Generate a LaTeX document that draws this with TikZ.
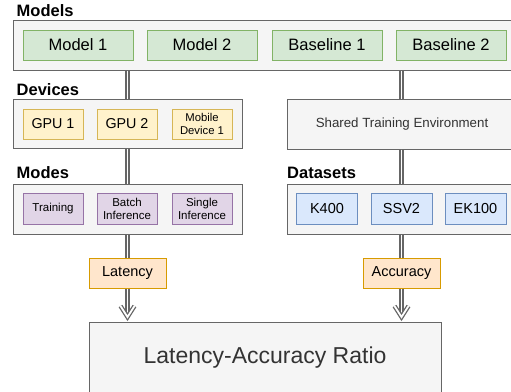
\documentclass[tikz,border=0pt]{standalone}
\usepackage{fontspec}
\setmainfont{Liberation Sans}
\usetikzlibrary{calc}
\definecolor{grayfill}{HTML}{F5F5F5}
\definecolor{graydraw}{HTML}{666666}
\definecolor{txtgray}{HTML}{333333}
\definecolor{greenfill}{HTML}{D5E8D4}
\definecolor{greendraw}{HTML}{82B366}
\definecolor{yellowfill}{HTML}{FFF2CC}
\definecolor{yellowdraw}{HTML}{D6B656}
\definecolor{purplefill}{HTML}{E1D5E7}
\definecolor{purpledraw}{HTML}{9673A6}
\definecolor{bluefill}{HTML}{DAE8FC}
\definecolor{bluedraw}{HTML}{6C8EBF}
\definecolor{orangefill}{HTML}{FFE6CC}
\definecolor{orangedraw}{HTML}{D79B00}
\tikzset{
  container/.style={draw=graydraw, fill=grayfill, line width=1pt, inner sep=0pt, text=txtgray},
  box/.style={line width=1pt, inner sep=0pt, align=center, text=black},
  modelbox/.style={box, draw=greendraw, fill=greenfill, minimum width=110pt, minimum height=30pt, font=\fontsize{16.5}{19}\selectfont},
  devbox/.style={box, draw=yellowdraw, fill=yellowfill, minimum width=60pt, minimum height=30pt},
  modebox/.style={box, draw=purpledraw, fill=purplefill, minimum width=60pt, minimum height=31pt, font=\fontsize{11.5}{13.5}\selectfont},
  databox/.style={box, draw=bluedraw, fill=bluefill, minimum width=61pt, minimum height=31pt, font=\fontsize{14.5}{17}\selectfont},
  metricbox/.style={box, draw=orangedraw, fill=orangefill, minimum width=77pt, minimum height=30pt, font=\fontsize{14.5}{17}\selectfont},
  grouplabel/.style={anchor=west, inner sep=0pt, font=\bfseries\fontsize{16.5}{19}\selectfont},
  dbl/.style={draw=graydraw, line width=1.3pt, double=white, double distance=1.8pt},
  chevron/.style={dbl, line join=miter, miter limit=10},
}
\begin{document}
\begin{tikzpicture}[x=1pt,y=-1pt]
\useasboundingbox (0,0) rectangle (511,391);
\clip (0,0) rectangle (511,391);
% group labels
\node[grouplabel] (lmodels) at (16.5,11) {Models};
\node[grouplabel] (ldevices) at (16.5,90) {Devices};
\node[grouplabel] (lmodes) at (16.5,173) {Modes};
\node[grouplabel] (ldatasets) at (287,173) {Datasets};
% containers
\node[container, minimum width=504pt, minimum height=50pt] (models) at (265,45) {};
\node[container, minimum width=229pt, minimum height=49pt] (devices) at (127.5,123.5) {};
\node[container, minimum width=230pt, minimum height=50pt, font=\fontsize{13.3}{16}\selectfont] (shared) at (402,124) {Shared Training Environment};
\node[container, minimum width=229pt, minimum height=50pt] (modes) at (127.5,209) {};
\node[container, minimum width=230pt, minimum height=50pt] (datasets) at (402,209) {};
\node[container, minimum width=352pt, minimum height=72pt, font=\fontsize{23}{27}\selectfont] (ratio) at (265,358) {Latency-Accuracy Ratio};
% models
\node[modelbox] (m1) at (78,45) {Model 1};
\node[modelbox] (m2) at (202,45) {Model 2};
\node[modelbox] (b1) at (327,45) {Baseline 1};
\node[modelbox] (b2) at (451,45) {Baseline 2};
% devices
\node[devbox, font=\fontsize{14.3}{17}\selectfont] (gpu1) at (53,124) {GPU 1};
\node[devbox, font=\fontsize{14.3}{17}\selectfont] (gpu2) at (127,124) {GPU 2};
\node[devbox, font=\fontsize{11.3}{13.5}\selectfont] (mobile) at (202,124) {Mobile\\Device 1};
% modes
\node[modebox] (train) at (53,209) {Training};
\node[modebox] (batch) at (127,209) {Batch\\Inference};
\node[modebox] (single) at (202,209) {Single\\Inference};
% datasets
\node[databox] (k400) at (327,209) {K400};
\node[databox] (ssv2) at (401.5,209) {SSV2};
\node[databox] (ek100) at (475.5,209) {EK100};
% metrics
\node[metricbox] (lat) at (127.5,273) {Latency};
\node[metricbox] (acc) at (401.5,273) {Accuracy};
% connectors
\draw[dbl] (models.south -| lat) -- (devices.north -| lat);
\draw[dbl] (devices.south -| lat) -- (modes.north -| lat);
\draw[dbl] (modes.south -| lat) -- (lat.north);
\draw[dbl] (models.south -| acc) -- (shared.north -| acc);
\draw[dbl] (shared.south -| acc) -- (datasets.north -| acc);
\draw[dbl] (datasets.south -| acc) -- (acc.north);
% arrows with hollow double heads
\foreach \src in {lat,acc}{
  \draw[dbl] (\src.south) -- ($(ratio.north -| \src)+(0,-6)$);
  \draw[chevron] ($(ratio.north -| \src)+(-7,-15.5)$) -- ($(ratio.north -| \src)+(0,-4.5)$) -- ($(ratio.north -| \src)+(7,-15.5)$);
}
\end{tikzpicture}
\end{document}
